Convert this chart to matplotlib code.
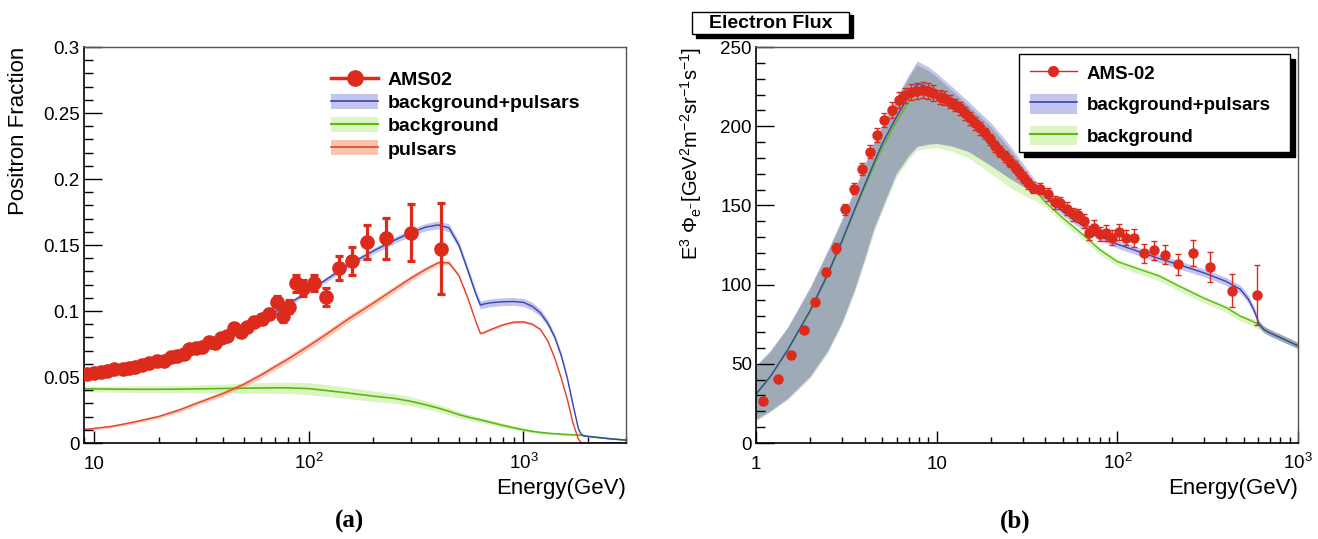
import numpy as np
import matplotlib
matplotlib.use('Agg')
import matplotlib.pyplot as plt
from matplotlib.patches import Patch, Rectangle
from matplotlib.lines import Line2D
from matplotlib.ticker import FixedLocator, FixedFormatter, LogLocator, MultipleLocator, NullFormatter

plt.rcParams['font.family'] = ['Liberation Sans', 'DejaVu Sans']
plt.rcParams['mathtext.fontset'] = 'custom'
plt.rcParams['mathtext.rm'] = 'Liberation Sans'
plt.rcParams['mathtext.it'] = 'Liberation Sans:italic'
plt.rcParams['mathtext.bf'] = 'Liberation Sans:bold'

# ---------------- panel (a): positron fraction ----------------
pf_E = [9.31, 10.0, 10.75, 11.5, 12.4, 13.6, 14.6, 15.6, 16.8, 18.0,
        19.7, 21.2, 22.8, 24.4, 26.3, 27.7, 29.8, 32.0, 34.3, 36.8,
        38.9, 41.7, 44.8, 48.2, 51.7, 55.9, 60.9, 65.4, 70.9, 75.7,
        81.0, 87.6, 94.3, 106, 121, 139, 159, 186, 229, 298, 415]
pf_val = [0.0520, 0.0528, 0.0536, 0.0548, 0.0558, 0.0561, 0.0566, 0.0578, 0.0591, 0.0604,
          0.0624, 0.0621, 0.0649, 0.0659, 0.0674, 0.0712, 0.0717, 0.0729, 0.0767, 0.0760,
          0.0793, 0.0811, 0.0869, 0.0843, 0.0881, 0.0919, 0.0937, 0.0977, 0.1070, 0.0962,
          0.1033, 0.1210, 0.1172, 0.1210, 0.1108, 0.1328, 0.1379, 0.1523, 0.1551, 0.1593, 0.1472]
pf_err = [0.0012, 0.0012, 0.0012, 0.0012, 0.0012, 0.0013, 0.0013, 0.0013, 0.0014, 0.0014,
          0.0015, 0.0015, 0.0016, 0.0016, 0.0017, 0.0018, 0.0019, 0.0020, 0.0021, 0.0022,
          0.0023, 0.0025, 0.0026, 0.0028, 0.0030, 0.0032, 0.0034, 0.0037, 0.0040, 0.0045,
          0.0050, 0.0065, 0.0060, 0.0060, 0.0070, 0.0090, 0.0107, 0.0126, 0.0155, 0.0217, 0.0343]

pf_curve_E = [9, 10, 12, 15, 20, 25, 30, 40, 50, 60, 70, 80, 100, 125, 150, 200, 250, 300, 350, 400,
              450, 500, 550, 600, 630, 650, 700, 800, 900, 1000, 1100, 1200, 1300, 1400, 1500, 1600,
              1700, 1800, 1850, 1900, 2000, 2500, 3000]
pf_total = [0.0515, 0.0525, 0.0545, 0.0570, 0.0615, 0.0660, 0.0705, 0.0785, 0.0860, 0.0930,
            0.0995, 0.1050, 0.1150, 0.1255, 0.1340, 0.1455, 0.1535, 0.1595, 0.1635, 0.1652,
            0.1630, 0.1500, 0.1310, 0.1130, 0.1045, 0.1052, 0.1062, 0.1070, 0.1072, 0.1065,
            0.1035, 0.0985, 0.0905, 0.0800, 0.0660, 0.0490, 0.0290, 0.0110, 0.0068, 0.0056,
            0.0050, 0.0033, 0.0022]
pf_total_err = [0.0012, 0.0012, 0.0012, 0.0013, 0.0013, 0.0014, 0.0014, 0.0015, 0.0015, 0.0016,
                0.0017, 0.0017, 0.0018, 0.0019, 0.0020, 0.0022, 0.0024, 0.0026, 0.0028, 0.0030,
                0.0030, 0.0030, 0.0030, 0.0030, 0.0030, 0.0030, 0.0030, 0.0030, 0.0030, 0.0030,
                0.0030, 0.0028, 0.0026, 0.0024, 0.0022, 0.0018, 0.0014, 0.0008, 0.0005, 0.0004,
                0.0003, 0.0002, 0.0002]
pf_bg = [0.0410, 0.0410, 0.0408, 0.0407, 0.0407, 0.0408, 0.0410, 0.0413, 0.0415, 0.0417,
         0.0418, 0.0418, 0.0412, 0.0395, 0.0380, 0.0355, 0.0338, 0.0315, 0.0290, 0.0265,
         0.0240, 0.0215, 0.0197, 0.0183, 0.0175, 0.0170, 0.0157, 0.0134, 0.0115, 0.0100,
         0.0088, 0.0080, 0.0074, 0.0070, 0.0067, 0.0064, 0.0062, 0.0060, 0.0059, 0.0056,
         0.0050, 0.0033, 0.0022]
pf_bg_err = [0.0022, 0.0022, 0.0023, 0.0024, 0.0025, 0.0027, 0.0029, 0.0033, 0.0037, 0.0040,
             0.0042, 0.0044, 0.0045, 0.0044, 0.0043, 0.0040, 0.0037, 0.0034, 0.0031, 0.0029,
             0.0027, 0.0025, 0.0023, 0.0021, 0.0020, 0.0019, 0.0018, 0.0016, 0.0014, 0.0012,
             0.0011, 0.0010, 0.0009, 0.0008, 0.0008, 0.0007, 0.0006, 0.0005, 0.0005, 0.0004,
             0.0004, 0.0003, 0.0003]
pf_psr = [0.0103, 0.0110, 0.0125, 0.0155, 0.0200, 0.0250, 0.0300, 0.0375, 0.0445, 0.0515,
          0.0580, 0.0635, 0.0735, 0.0840, 0.0930, 0.1060, 0.1165, 0.1250, 0.1315, 0.1365,
          0.1365, 0.1270, 0.1100, 0.0920, 0.0830, 0.0835, 0.0858, 0.0895, 0.0915, 0.0918,
          0.0900, 0.0860, 0.0770, 0.0640, 0.0490, 0.0330, 0.0150, 0.0030, 0.0005, 0.0,
          0.0, 0.0, 0.0]
pf_psr_err = [0.0008, 0.0009, 0.0010, 0.0011, 0.0013, 0.0015, 0.0017, 0.0019, 0.0021, 0.0022,
              0.0023, 0.0024, 0.0025, 0.0026, 0.0026, 0.0025, 0.0024, 0.0022, 0.0020, 0.0017,
              0.0015, 0.0012, 0.0010, 0.0008, 0.0008, 0.0008, 0.0009, 0.0010, 0.0010, 0.0010,
              0.0010, 0.0009, 0.0008, 0.0007, 0.0006, 0.0005, 0.0004, 0.0002, 0.0001, 0.0,
              0.0, 0.0, 0.0]

pf_xticks = [10, 100, 1000]
pf_xticklabels = ['10', '$10^{2}$', '$10^{3}$']
pf_yticks = [0, 0.05, 0.1, 0.15, 0.2, 0.25, 0.3]
pf_yticklabels = ['0', '0.05', '0.1', '0.15', '0.2', '0.25', '0.3']
pf_labels = ['AMS02', 'background+pulsars', 'background', 'pulsars']

# ---------------- panel (b): electron flux ----------------
ef_E = [1.10, 1.32, 1.56, 1.84, 2.12, 2.44, 2.77, 3.12, 3.48, 3.87,
        4.26, 4.68, 5.14, 5.65, 6.17, 6.69, 7.19, 7.77, 8.38, 9.01,
        9.6, 10.4, 11.0, 11.9, 12.7, 13.5, 14.4, 15.3, 16.3, 17.4,
        18.6, 19.8, 21.1, 22.5, 24.0, 25.5, 27.0, 28.7, 30.4, 32.2,
        34.1, 37.1, 41.4, 45.1, 48.1, 52.4, 57.1, 60.9, 65.0, 69.3,
        74.6, 79.9, 86.6, 93.6, 102, 112, 124, 140, 159, 183,
        217, 263, 327, 431, 593]
ef_val = [26.2, 40.3, 55.4, 71.6, 89.3, 107.9, 123.2, 147.6, 160.4, 173,
          183.9, 194.3, 203.8, 210.4, 216.3, 219.4, 221.7, 222, 222.9, 222.3,
          220.7, 218.5, 217.7, 215.4, 213.3, 211.3, 208.1, 205, 201.9, 198.7,
          195.6, 191.8, 187.2, 184, 181, 177.5, 174.5, 171, 167.5, 164,
          161.1, 160.4, 156.9, 152, 151.6, 147.9, 144.3, 143.7, 140.1, 132.8,
          136, 132, 132.8, 129.7, 133.2, 129.7, 129.3, 119.7, 121.7, 119,
          112.8, 119.9, 110.9, 96.2, 93.3]
ef_err = [1.5, 1.5, 1.5, 1.5, 2, 2.5, 3, 3.5, 3.5, 4,
          4, 4.5, 4.5, 5, 5, 5, 5, 5, 5, 5,
          5, 4.5, 4.5, 4, 4, 4, 4, 4, 4, 4,
          3.5, 3.5, 3.5, 3.5, 3.5, 3.5, 3.5, 3.5, 3.5, 3.5,
          3.5, 3.5, 4, 4, 4, 4, 4, 4, 4.5, 4.5,
          4.5, 4.5, 5, 5, 5, 5, 5.5, 6, 6, 6,
          6.5, 8, 9.5, 10.5, 19]

ef_curve_E = [1, 1.2, 1.5, 2, 2.5, 3, 3.5, 4, 4.5, 5, 6, 7, 7.8, 9, 10, 12, 15, 20, 25, 30,
              35, 40, 50, 60, 70, 80, 100, 130, 170, 220, 300, 400, 480, 530, 570, 610, 650,
              700, 800, 1000]
ef_total = [31, 42, 59, 84, 107, 128, 147, 163, 177, 189, 206, 219, 227, 224.5, 221.5, 215.5,
            207, 194, 181.5, 170.5, 162, 156, 146, 139.5, 134.5, 130.5, 125.5, 121, 116.5,
            112.5, 107.5, 102, 97, 91, 84, 75, 71.5, 69.5, 66.5, 61.4]
ef_total_lo = [14.6, 20, 28, 42, 58, 76, 96, 116, 135, 148, 170, 181, 187, 188.5, 189, 187.5,
               184, 175, 167.5, 162, 158, 153.5, 143.5, 137, 132, 128, 123, 118.5, 114, 110,
               105, 99.5, 94.5, 88.5, 81.5, 73, 69.5, 67.5, 64.5, 59.5]
ef_total_hi = [49, 58.5, 73.5, 99, 122, 142, 160, 176.5, 190.5, 201.5, 218.5, 232.5, 241.2,
               237.5, 233.5, 225.5, 215.5, 202, 189, 176.5, 166, 158.5, 148.5, 142, 137, 133,
               128, 123.5, 119, 115, 110, 104.5, 99.5, 93.5, 86.5, 77, 73.5, 71.5, 68.5, 63.4]
ef_bg = [30.5, 41.5, 58.5, 83, 106, 127, 146, 161.5, 175, 186.5, 203, 215.5, 222, 221, 218.5,
         213, 205, 192.5, 179.5, 168, 159.5, 152, 142, 134.5, 128, 122, 114.5, 110, 105.5, 99,
         91.5, 85.5, 80, 78, 76.4, 74.5, 71.5, 69.5, 66.5, 61.4]
ef_bg_lo = [14, 19.5, 27.3, 41, 57, 75, 94.5, 114.5, 133.5, 146.5, 168, 179, 185, 186, 186.5,
            184.5, 180, 170, 162, 156.5, 153, 149, 139, 131.5, 125, 119, 111.5, 107, 102.5, 96,
            88.5, 82.5, 77, 75, 73.4, 71.5, 69.5, 67.5, 64.5, 59.5]
ef_bg_hi = [48, 57, 72, 97, 120, 140, 158, 174, 188, 199, 216, 230, 238.5, 235, 231, 223, 213,
            199.5, 186.5, 174, 163.5, 153.5, 143.5, 136, 129.5, 123.5, 116, 111.5, 107, 100.5,
            93, 87, 81.5, 79.5, 78, 76.5, 73.5, 71.5, 68.5, 63.4]

ef_xticks = [1, 10, 100, 1000]
ef_xticklabels = ['1', '10', '$10^{2}$', '$10^{3}$']
ef_yticks = [0, 50, 100, 150, 200, 250]
ef_yticklabels = ['0', '50', '100', '150', '200', '250']
ef_labels = ['AMS-02', 'background+pulsars', 'background']

# ---------------- colours ----------------
RED = '#dc2a1c'
BLUE = '#3645b0'
GREEN = '#5cb814'
PSR = '#e5402a'
LAV = '#c4c4ee'
LGREEN = '#ddf5c3'
SALMON = '#fac4ad'
GREY = '#9eaab6'

W, H = 1318, 539
fig = plt.figure(figsize=(W / 100, H / 100), dpi=100)
axL = fig.add_axes([84 / W, 1 - 443 / H, 542 / W, 396 / H])
axR = fig.add_axes([756 / W, 1 - 443 / H, 542 / W, 396 / H])

# ----- panel a drawing -----
cE = np.array(pf_curve_E)
tot = np.array(pf_total); tot_e = np.array(pf_total_err)
bg = np.array(pf_bg); bg_e = np.array(pf_bg_err)
ps = np.array(pf_psr); ps_e = np.array(pf_psr_err)
axL.fill_between(cE, bg - bg_e, bg + bg_e, color='#c6ec9a', alpha=0.6, lw=0, zorder=1)
axL.fill_between(cE, ps - ps_e, ps + ps_e, color='#f6a482', alpha=0.6, lw=0, zorder=1.1)
axL.fill_between(cE, tot - tot_e, tot + tot_e, color='#9c9ce0', alpha=0.6, lw=0, zorder=1.2)
axL.plot(cE, bg, color=GREEN, lw=1.2, zorder=2)
axL.plot(cE, ps, color=PSR, lw=1.0, zorder=2)
axL.plot(cE, tot, color=BLUE, lw=1.0, zorder=2.1)
axL.errorbar(pf_E, pf_val, yerr=pf_err, fmt='o', color=RED, ms=9.5, elinewidth=2.3,
             capsize=2.6, capthick=2.3, zorder=3)

axL.set_xscale('log')
axL.set_xlim(9, 3000)
axL.set_ylim(0, 0.3)
axL.xaxis.set_major_locator(FixedLocator(pf_xticks))
axL.xaxis.set_major_formatter(FixedFormatter(pf_xticklabels))
axL.yaxis.set_major_locator(FixedLocator(pf_yticks))
axL.yaxis.set_major_formatter(FixedFormatter(pf_yticklabels))
axL.yaxis.set_minor_locator(MultipleLocator(0.01))

hL = [Line2D([], [], color=RED, lw=2.5, marker='o', ms=11),
      (Patch(fc=LAV, ec='none'), Line2D([], [], color=BLUE, lw=1.2)),
      (Patch(fc=LGREEN, ec='none'), Line2D([], [], color=GREEN, lw=1.5)),
      (Patch(fc=SALMON, ec='none'), Line2D([], [], color=PSR, lw=1.2))]
axL.legend(hL, pf_labels, loc='upper left', bbox_to_anchor=(0.4557, 0.940), frameon=False,
           prop=dict(family='Liberation Sans', weight='bold', size=14), handlelength=2.42,
           handletextpad=0.51, labelspacing=0.25, handleheight=0.82, borderpad=0,
           borderaxespad=0, numpoints=1)
axL.set_ylabel('Positron Fraction', fontsize=16, loc='top')
axL.yaxis.label.set_va('center')
axL.yaxis.set_label_coords(-0.12, 1.0)
axL.set_xlabel('Energy(GeV)', fontsize=16, loc='right')
axL.xaxis.set_label_coords(1.0, -0.088)

# ----- panel b drawing -----
eE = np.array(ef_curve_E)
glo = np.array(ef_bg_lo); ghi = np.array(ef_bg_hi)
blo = np.array(ef_total_lo); bhi = np.array(ef_total_hi)
axR.fill_between(eE, glo, ghi, color=LGREEN, lw=0, zorder=1)
axR.fill_between(eE, blo, bhi, color=LAV, lw=0, zorder=1.1)
olo = np.maximum(glo, blo); ohi = np.minimum(ghi, bhi)
axR.fill_between(eE, olo, ohi, where=ohi > olo, interpolate=True, color=GREY, lw=0, zorder=1.2)
axR.plot(eE, ef_bg, color=GREEN, lw=1.0, zorder=2)
axR.plot(eE, ef_total, color=BLUE, lw=1.0, zorder=2.1)
axR.errorbar(ef_E, ef_val, yerr=ef_err, fmt='o', color=RED, ms=6.5, elinewidth=1.0,
             capsize=2.2, capthick=1.0, zorder=3)

axR.set_xscale('log')
axR.set_xlim(1, 1000)
axR.set_ylim(0, 250)
axR.xaxis.set_major_locator(FixedLocator(ef_xticks))
axR.xaxis.set_major_formatter(FixedFormatter(ef_xticklabels))
axR.yaxis.set_major_locator(FixedLocator(ef_yticks))
axR.yaxis.set_major_formatter(FixedFormatter(ef_yticklabels))
axR.yaxis.set_minor_locator(MultipleLocator(10))
axR.set_ylabel(r'E$^{3}$ $\Phi_{\mathrm{e^{-}}}$[GeV$^{2}$m$^{-2}$sr$^{-1}$s$^{-1}$]',
               fontsize=14.5, loc='top')
axR.yaxis.label.set_va('center')
axR.yaxis.set_label_coords(-0.119, 1.0)
axR.set_xlabel('Energy(GeV)', fontsize=16, loc='right')
axR.xaxis.set_label_coords(1.0, -0.088)

# legend box with shadow
bx0, by0, bw, bh = 0.485, 0.735, 0.5, 0.247
sh = Rectangle((bx0 + 5 / 542, by0 - 5 / 396), bw, bh, transform=axR.transAxes,
               fc='black', ec='black', clip_on=False, zorder=4.4)
bx = Rectangle((bx0, by0), bw, bh, transform=axR.transAxes, fc='white', ec='black',
               lw=1.0, clip_on=False, zorder=4.5)
axR.add_patch(sh); axR.add_patch(bx)
hR = [Line2D([], [], color=RED, lw=1.0, marker='o', ms=7),
      (Patch(fc=LAV, ec='none'), Line2D([], [], color=BLUE, lw=1.2)),
      (Patch(fc=LGREEN, ec='none'), Line2D([], [], color=GREEN, lw=1.5))]
legR = axR.legend(hR, ef_labels, loc='upper left', bbox_to_anchor=(0.5055, 0.960),
                  frameon=False, prop=dict(family='Liberation Sans', weight='bold', size=13.5),
                  handlelength=2.5, handletextpad=0.53, labelspacing=0.60, handleheight=1.23,
                  borderpad=0, borderaxespad=0, numpoints=1)
legR.set_zorder(5)

for ax in (axL, axR):
    ax.xaxis.set_minor_locator(LogLocator(base=10, subs=np.arange(2, 10)))
    ax.xaxis.set_minor_formatter(NullFormatter())
    ax.tick_params(which='both', direction='in', top=False, right=False, colors='black')
    ax.tick_params(axis='y', which='major', length=12.8, width=1.0, labelsize=13.5, pad=3)
    ax.tick_params(axis='y', which='minor', length=6.7, width=1.0)
    ax.tick_params(axis='x', which='major', length=8.5, width=1.0, labelsize=13.5, pad=18.5)
    ax.tick_params(axis='x', which='minor', length=4.5, width=1.0)
    for lab in ax.get_xticklabels():
        lab.set_verticalalignment('baseline')
    for s in ('left', 'bottom'):
        ax.spines[s].set_linewidth(1.2)
        ax.spines[s].set_color('black')
    for s in ('top', 'right'):
        ax.spines[s].set_linewidth(1.0)
        ax.spines[s].set_color('#555555')

# title box "Electron Flux"
tx0, ty0, tw, th = 692 / W, 1 - 34.3 / H, 157 / W, 22.6 / H
fig.patches.append(Rectangle((tx0 + 3.5 / W, ty0 - 3.5 / H), tw, th, transform=fig.transFigure,
                             fc='black', ec='black', zorder=1))
fig.patches.append(Rectangle((tx0, ty0), tw, th, transform=fig.transFigure,
                             fc='white', ec='black', lw=1.0, zorder=2))
fig.text(tx0 + tw / 2, ty0 + th / 2, 'Electron Flux', ha='center', va='center',
         fontsize=14, fontweight='bold', family='Liberation Sans', zorder=3)

fig.text(350 / W, 1 - 521 / H, '(a)', ha='center', va='center', fontsize=18,
         fontweight='bold', family='Liberation Serif')
fig.text(1015 / W, 1 - 521 / H, '(b)', ha='center', va='center', fontsize=18,
         fontweight='bold', family='Liberation Serif')

fig.savefig('out.png', dpi=100)
